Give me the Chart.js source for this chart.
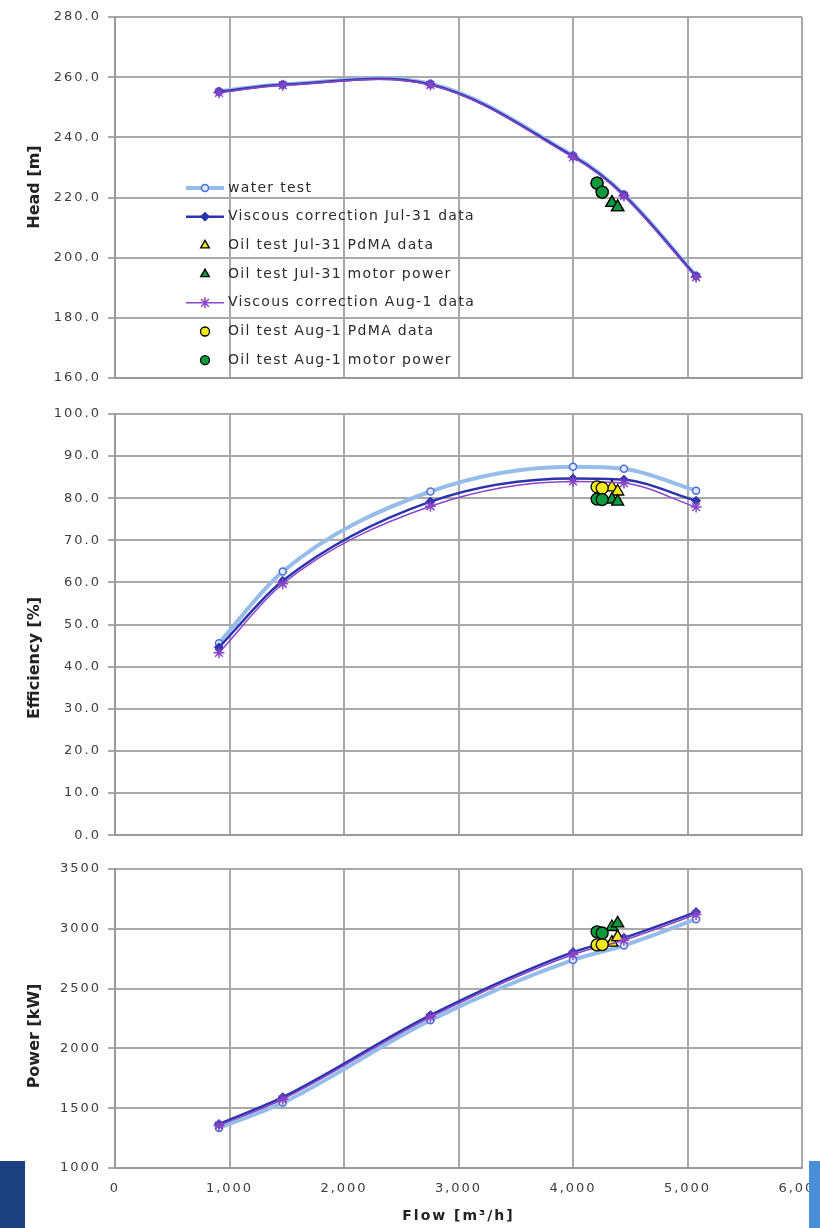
<!DOCTYPE html>
<html>
<head>
<meta charset="utf-8">
<title>Pump curves - water test vs viscous oil</title>
<script src="https://cdn.jsdelivr.net/npm/chart.js@4.4.1/dist/chart.umd.min.js"></script>
<style>
  html, body { margin: 0; padding: 0; background: #fff; }
  body { width: 820px; height: 1228px; position: relative; overflow: hidden; }
  canvas { position: absolute; left: 0; }
  #headChart  { top: 0; }
  #effChart   { top: 395px; }
  #powerChart { top: 850px; }
  .tab { position: absolute; top: 1161px; height: 67px; }
  #tabL { left: 0; width: 25px; background: #1b3f7f; }
  #tabR { left: 809px; width: 11px; background: #4a8fd6; }
</style>
</head>
<body>
<canvas id="headChart" width="820" height="395"></canvas>
<canvas id="effChart" width="820" height="455"></canvas>
<canvas id="powerChart" width="820" height="378"></canvas>
<div class="tab" id="tabL"></div>
<div class="tab" id="tabR"></div>

<script>
// flow points [m3/h]
const FLOW = [908, 1465, 2755, 4000, 4445, 5075];
const FLOW_OIL_JUL31 = [4340, 4390];
const FLOW_OIL_AUG1 = [4210, 4255];

const LABELS = [
    "water test",
    "Viscous correction Jul-31 data",
    "Oil test Jul-31 PdMA data",
    "Oil test Jul-31 motor power",
    "Viscous correction Aug-1 data",
    "Oil test Aug-1 PdMA data",
    "Oil test Aug-1 motor power"
];

// head [m]
const HEAD_WATER      = [255.3, 257.6, 257.8, 234.0, 221.0, 194.0];
const HEAD_VISC_JUL31 = [255.1, 257.5, 257.6, 233.7, 220.8, 193.8];
const HEAD_VISC_AUG1  = [254.8, 257.3, 257.4, 233.4, 220.5, 193.5];
const HEAD_OIL_JUL31  = [218.2, 216.8];
const HEAD_OIL_AUG1   = [224.8, 221.8];

// efficiency [%]
const EFF_WATER       = [45.6, 62.6, 81.6, 87.5, 87.0, 81.8];
const EFF_VISC_JUL31  = [44.6, 60.4, 79.2, 84.7, 84.4, 79.4];
const EFF_VISC_AUG1   = [43.3, 59.7, 78.1, 84.0, 83.6, 77.9];
const EFF_PDMA_JUL31  = [82.6, 81.6];
const EFF_MOTOR_JUL31 = [79.7, 79.2];
const EFF_PDMA_AUG1   = [82.7, 82.4];
const EFF_MOTOR_AUG1  = [79.8, 79.7];

// power [kW]
const POWER_WATER       = [1335, 1545, 2235, 2740, 2860, 3080];
const POWER_VISC_JUL31  = [1368, 1592, 2278, 2805, 2925, 3140];
const POWER_VISC_AUG1   = [1355, 1575, 2262, 2785, 2905, 3120];
const POWER_PDMA_JUL31  = [2885, 2930];
const POWER_MOTOR_JUL31 = [3015, 3045];
const POWER_PDMA_AUG1   = [2865, 2868];
const POWER_MOTOR_AUG1  = [2975, 2965];

// axis ticks
const FLOW_TICKS  = [0, 1000, 2000, 3000, 4000, 5000, 6000];
const HEAD_TICKS  = [160, 180, 200, 220, 240, 260, 280];
const EFF_TICKS   = [0, 10, 20, 30, 40, 50, 60, 70, 80, 90, 100];
const POWER_TICKS = [1000, 1500, 2000, 2500, 3000, 3500];

(function () {
    "use strict";

    const FONT_FAMILY = "'DejaVu Sans', sans-serif";
    const TICK_FONT = { family: FONT_FAMILY, size: 13 };
    const GRID = "#a9a9a9";

    // marker / line look, same order as LABELS
    const LOOK = [
        { line: "#96bdea", lineWidth: 4,   shape: "circle",   r: 3.5, legendR: 3.5, fill: "#dfe9fb", stroke: "#4a6fd8", sw: 1.5 },
        { line: "#2c34ad", lineWidth: 2.5, shape: "rectRot",  r: 4.5, legendR: 4.5, fill: "#2c34ad", stroke: "#2c34ad", sw: 1 },
        { shape: "triangle", r: 7, legendR: 5, fill: "#f3e916", stroke: "#000", sw: 1.3 },
        { shape: "triangle", r: 7, legendR: 5, fill: "#0c9a3d", stroke: "#000", sw: 1.3 },
        { line: "#8a44c8", lineWidth: 1.5, shape: "star",     r: 5.5, legendR: 5.5, fill: "#8a44c8", stroke: "#8a44c8", sw: 1.5 },
        { shape: "circle", r: 6, legendR: 4.5, fill: "#f3e916", stroke: "#000", sw: 1.3 },
        { shape: "circle", r: 6, legendR: 4.5, fill: "#0c9a3d", stroke: "#000", sw: 1.3 }
    ];

    function pts(xs, ys) {
        return xs.map((x, i) => ({ x, y: ys[i] }));
    }

    function makeSets(lists, smooth) {
        return lists.map(([xs, ys], i) => {
            const s = LOOK[i];
            return {
                label: LABELS[i],
                data: pts(xs, ys),
                showLine: !!s.line,
                borderColor: s.line || s.stroke,
                borderWidth: s.lineWidth || 0,
                backgroundColor: s.fill,
                pointStyle: s.shape,
                pointRadius: s.r,
                pointHoverRadius: s.r,
                pointBackgroundColor: s.fill,
                pointBorderColor: s.stroke,
                pointBorderWidth: s.sw,
                tension: smooth.tension,
                cubicInterpolationMode: smooth.mode,
                order: 10 - i
            };
        });
    }

    function drawMarker(ctx, s, x, y, r) {
        ctx.save();
        ctx.fillStyle = s.fill;
        ctx.strokeStyle = s.stroke;
        ctx.lineWidth = s.sw;
        ctx.beginPath();
        if (s.shape === "circle") {
            ctx.arc(x, y, r, 0, Math.PI * 2);
        } else if (s.shape === "triangle") {
            for (let k = 0; k < 3; k++) {
                const a = k * 2 * Math.PI / 3;
                const px = x + Math.sin(a) * r, py = y - Math.cos(a) * r;
                k === 0 ? ctx.moveTo(px, py) : ctx.lineTo(px, py);
            }
            ctx.closePath();
        } else if (s.shape === "rectRot") {
            ctx.moveTo(x, y - r); ctx.lineTo(x + r, y);
            ctx.lineTo(x, y + r); ctx.lineTo(x - r, y);
            ctx.closePath();
        } else if (s.shape === "star") {
            const d = r * 0.707;
            ctx.moveTo(x, y - r); ctx.lineTo(x, y + r);
            ctx.moveTo(x - d, y - d); ctx.lineTo(x + d, y + d);
            ctx.moveTo(x - d, y + d); ctx.lineTo(x + d, y - d);
        }
        if (s.shape !== "star") ctx.fill();
        ctx.stroke();
        ctx.restore();
    }

    // Excel-ish wide lettering on ticks
    const spacing = {
        id: "spacing",
        beforeUpdate(chart) { chart.ctx.letterSpacing = "2px"; },
        beforeDraw(chart)   { chart.ctx.letterSpacing = "2px"; }
    };

    // rotated y title, placed by hand
    const sideTitle = {
        id: "sideTitle",
        afterDraw(chart, args, o) {
            const ctx = chart.ctx;
            ctx.save();
            ctx.letterSpacing = "0px";
            ctx.translate(o.x, o.y);
            ctx.rotate(-Math.PI / 2);
            ctx.font = "bold 16px " + FONT_FAMILY;
            ctx.fillStyle = "#222";
            ctx.textAlign = "center";
            ctx.textBaseline = "middle";
            ctx.fillText(o.text, 0, 0);
            ctx.restore();
        }
    };

    // legend sitting inside the head plot
    const insideLegend = {
        id: "insideLegend",
        afterDatasetsDraw(chart, args, o) {
            if (!o.show) return;
            const ctx = chart.ctx;
            ctx.save();
            ctx.letterSpacing = "1.3px";
            ctx.font = "14px " + FONT_FAMILY;
            ctx.textBaseline = "middle";
            ctx.textAlign = "left";
            LABELS.forEach((txt, i) => {
                const y = o.top + i * o.step;
                const s = LOOK[i];
                if (s.line) {
                    ctx.strokeStyle = s.line;
                    ctx.lineWidth = s.lineWidth;
                    ctx.beginPath();
                    ctx.moveTo(o.x0, y);
                    ctx.lineTo(o.x1, y);
                    ctx.stroke();
                }
                drawMarker(ctx, s, (o.x0 + o.x1) / 2, y, s.legendR);
                ctx.fillStyle = "#2b2b2b";
                ctx.fillText(txt, o.textX, y);
            });
            ctx.restore();
        }
    };

    function yAxis(ticks, fmt) {
        return {
            min: ticks[0],
            max: ticks[ticks.length - 1],
            afterBuildTicks: sc => { sc.ticks = ticks.map(v => ({ value: v })); },
            afterFit: sc => { sc.width = 115; },
            grid: { color: GRID, lineWidth: 2, tickLength: 7 },
            border: { color: "#999", width: 2 },
            ticks: { font: TICK_FONT, color: "#3c3c3c", padding: 7, callback: fmt }
        };
    }

    function xAxis(withLabels) {
        return {
            type: "linear",
            min: FLOW_TICKS[0],
            max: FLOW_TICKS[FLOW_TICKS.length - 1],
            afterBuildTicks: sc => { sc.ticks = FLOW_TICKS.map(v => ({ value: v })); },
            afterFit: sc => {
                sc.paddingLeft = 0;
                sc.paddingRight = 0;
                if (withLabels) sc.height = 60;
            },
            grid: { color: GRID, lineWidth: 2, drawTicks: false },
            border: { color: "#999", width: 2 },
            ticks: {
                display: withLabels,
                font: TICK_FONT,
                color: "#3c3c3c",
                padding: 13,
                maxRotation: 0,
                callback: v => v.toLocaleString("en-US")
            },
            title: {
                display: withLabels,
                text: "Flow [m\u00b3/h]",
                color: "#222",
                font: { family: FONT_FAMILY, size: 14, weight: "bold" },
                padding: { top: 2, bottom: 3 }
            }
        };
    }

    function build(id, lists, yTicks, yFmt, title, pad, opts) {
        const ctx = document.getElementById(id).getContext("2d");
        return new Chart(ctx, {
            type: "scatter",
            data: { datasets: makeSets(lists, opts.smooth) },
            options: {
                responsive: false,
                animation: false,
                devicePixelRatio: 1,
                layout: { padding: pad },
                scales: { x: xAxis(opts.xLabels), y: yAxis(yTicks, yFmt) },
                plugins: {
                    legend: { display: false },
                    tooltip: { enabled: false },
                    sideTitle: title,
                    insideLegend: { show: !!opts.legend, x0: 186, x1: 224, textX: 228, top: 188, step: 28.7 }
                }
            },
            plugins: [spacing, sideTitle, insideLegend]
        });
    }

    function init() {
        build("headChart", [
            [FLOW, HEAD_WATER],
            [FLOW, HEAD_VISC_JUL31],
            [FLOW_OIL_JUL31, HEAD_OIL_JUL31],
            [FLOW_OIL_JUL31, HEAD_OIL_JUL31],
            [FLOW, HEAD_VISC_AUG1],
            [FLOW_OIL_AUG1, HEAD_OIL_AUG1],
            [FLOW_OIL_AUG1, HEAD_OIL_AUG1]
        ], HEAD_TICKS, v => v.toFixed(1),
        { text: "Head [m]", x: 35, y: 187 },
        { top: 17, bottom: 17, left: 0, right: 18 },
        { xLabels: false, legend: true, smooth: { tension: 0.35, mode: "default" } });

        build("effChart", [
            [FLOW, EFF_WATER],
            [FLOW, EFF_VISC_JUL31],
            [FLOW_OIL_JUL31, EFF_PDMA_JUL31],
            [FLOW_OIL_JUL31, EFF_MOTOR_JUL31],
            [FLOW, EFF_VISC_AUG1],
            [FLOW_OIL_AUG1, EFF_PDMA_AUG1],
            [FLOW_OIL_AUG1, EFF_MOTOR_AUG1]
        ], EFF_TICKS, v => v.toFixed(1),
        { text: "Efficiency [%]", x: 35, y: 263 },
        { top: 19, bottom: 13, left: 0, right: 18 },
        { xLabels: false, smooth: { tension: 0.4, mode: "monotone" } });

        build("powerChart", [
            [FLOW, POWER_WATER],
            [FLOW, POWER_VISC_JUL31],
            [FLOW_OIL_JUL31, POWER_PDMA_JUL31],
            [FLOW_OIL_JUL31, POWER_MOTOR_JUL31],
            [FLOW, POWER_VISC_AUG1],
            [FLOW_OIL_AUG1, POWER_PDMA_AUG1],
            [FLOW_OIL_AUG1, POWER_MOTOR_AUG1]
        ], POWER_TICKS, v => String(v),
        { text: "Power [kW]", x: 35, y: 186 },
        { top: 19, bottom: 0, left: 0, right: 18 },
        { xLabels: true, smooth: { tension: 0.4, mode: "monotone" } });
    }

    if (document.readyState === "loading") {
        document.addEventListener("DOMContentLoaded", init);
    } else {
        init();
    }
})();
</script>
</body>
</html>
